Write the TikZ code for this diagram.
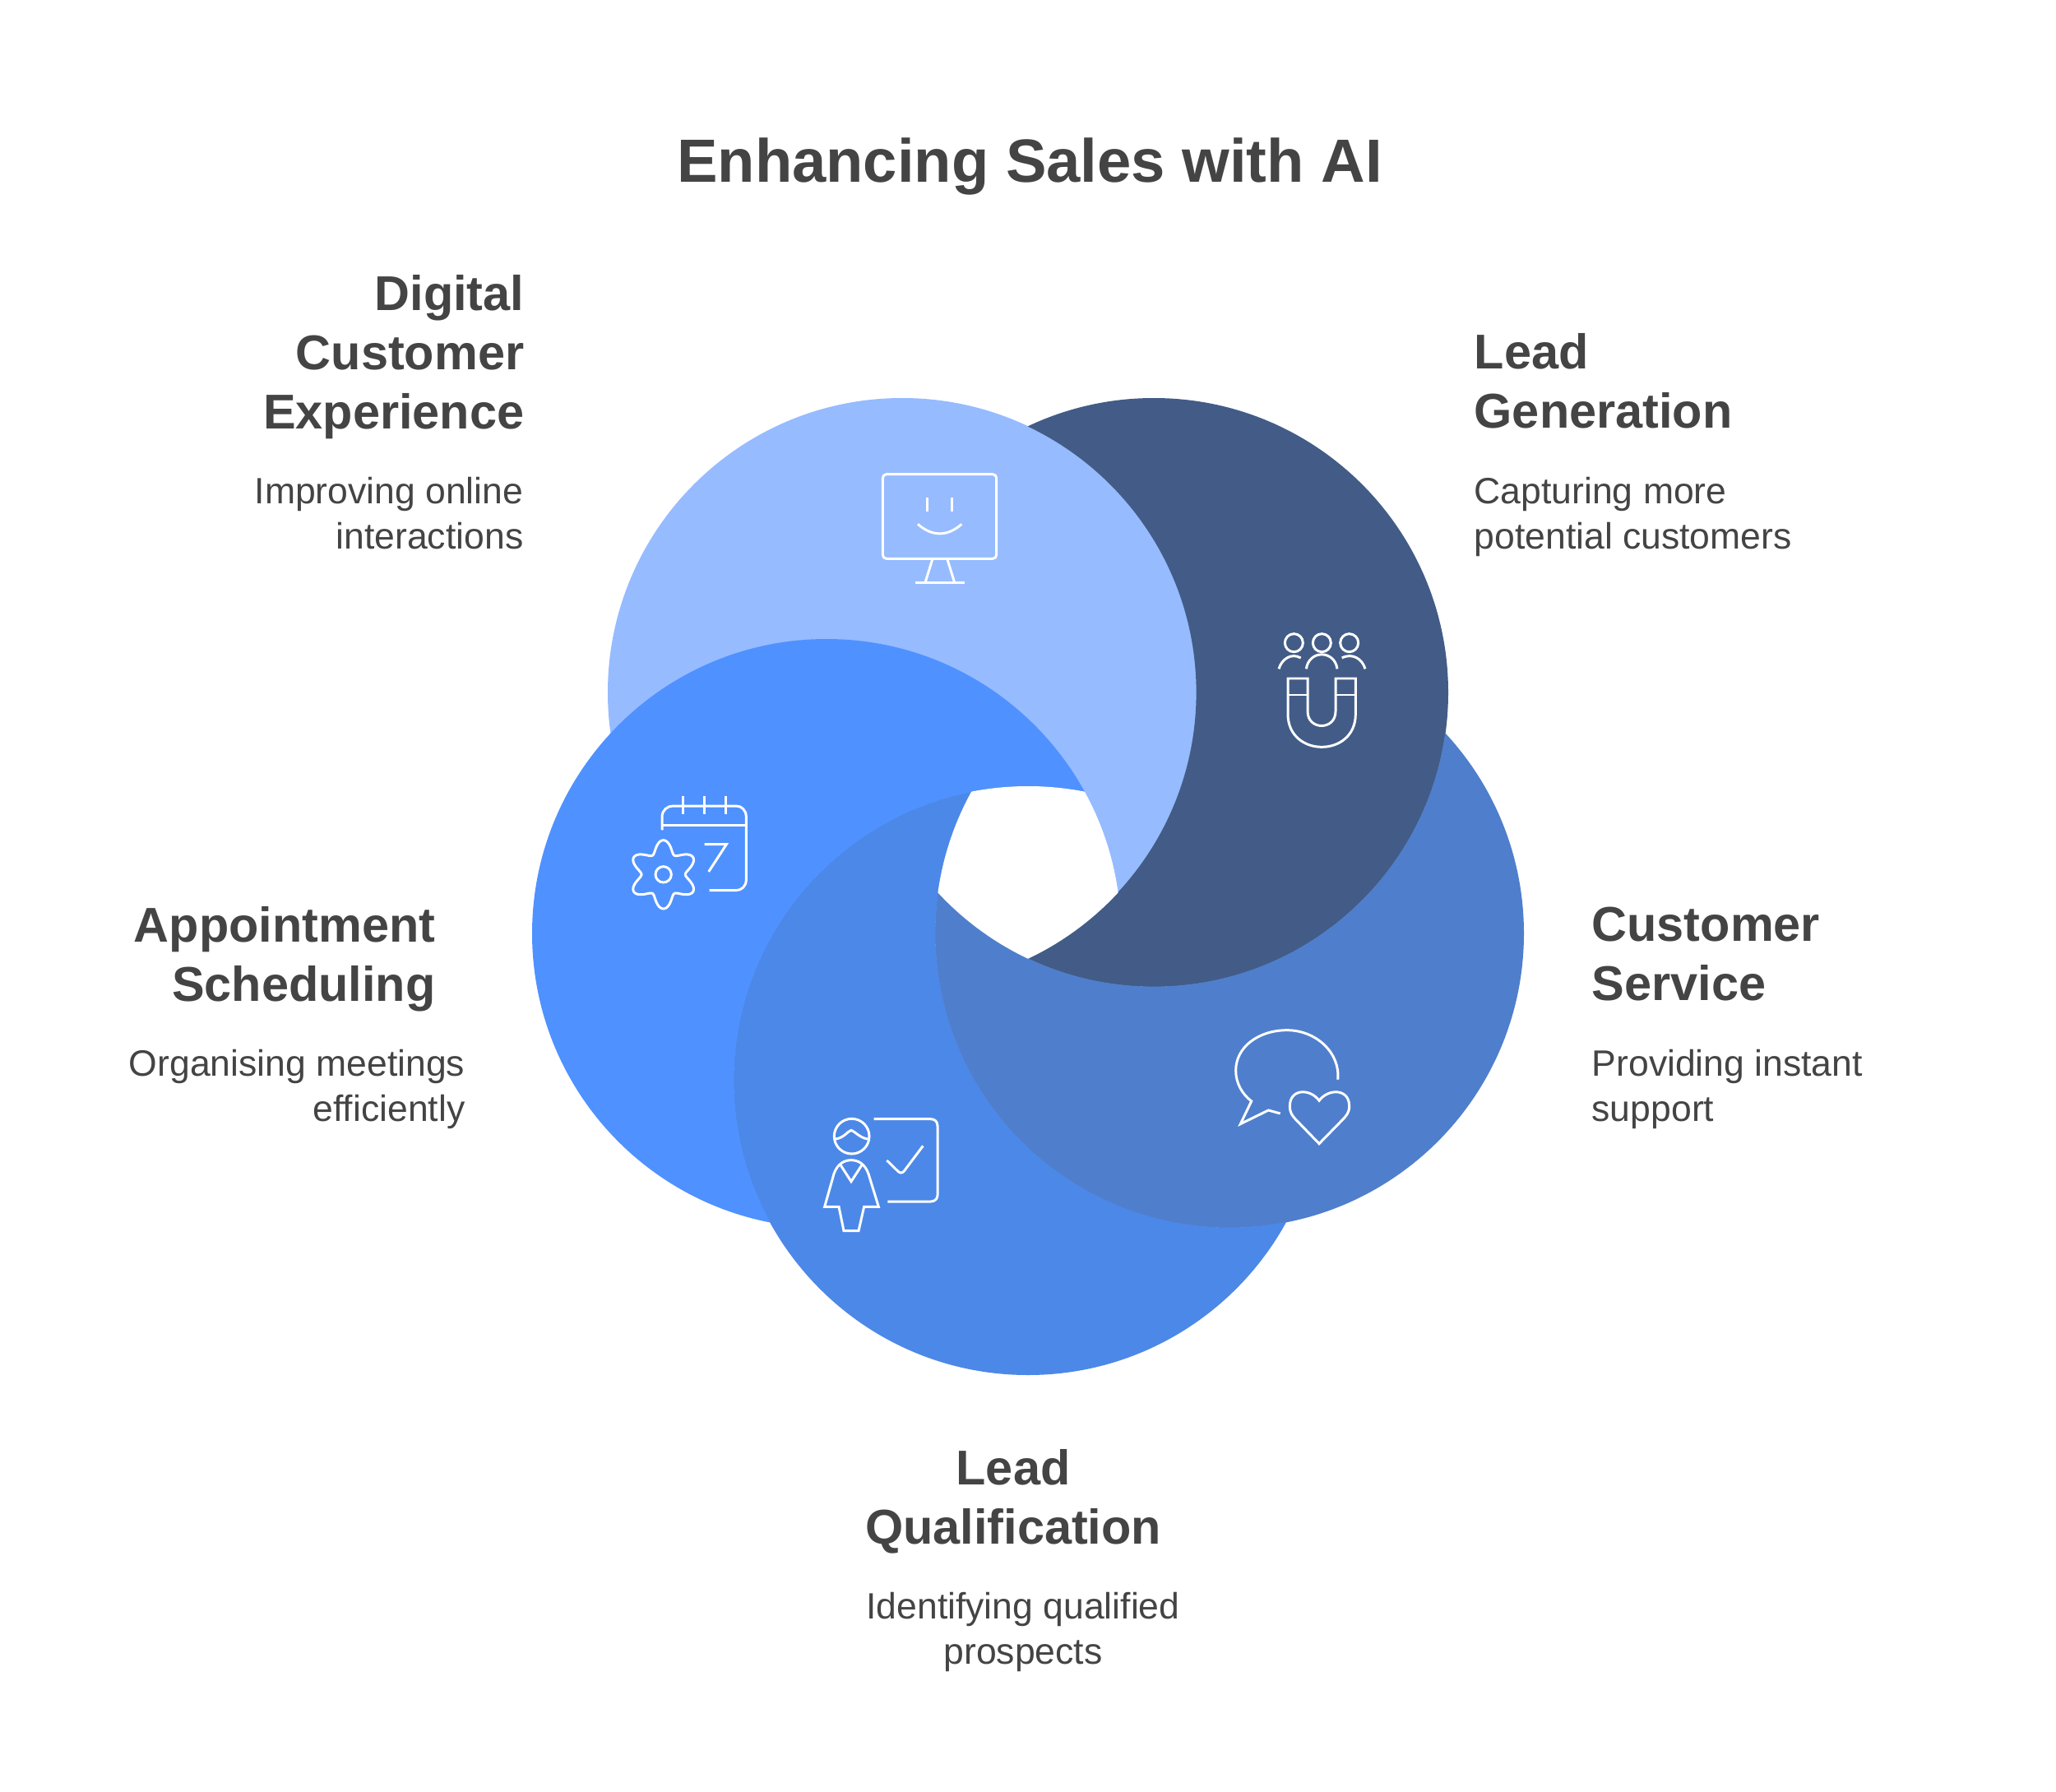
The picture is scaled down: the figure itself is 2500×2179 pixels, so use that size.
\documentclass[tikz,border=0pt]{standalone}
\usepackage{xcolor}
\usepackage{fontspec}
\setmainfont{Liberation Sans}
\definecolor{lightsky}{HTML}{96BBFF}
\definecolor{navyblue}{HTML}{425C87}
\definecolor{steelblue}{HTML}{4F7FCC}
\definecolor{midblue}{HTML}{4C88E8}
\definecolor{brightblue}{HTML}{4F91FF}
\definecolor{inkgrey}{HTML}{444444}
\usepackage{tikz}
\tikzset{
	headtext/.style={inner sep=0, text=inkgrey, font=\fontsize{16.9}{20.5}\selectfont\bfseries},
	bodytext/.style={inner sep=0, text=inkgrey, font=\fontsize{12.66}{15.6}\selectfont},
	iconline/.style={draw=white, line width=0.85pt},
	iconbox/.style={shift={#1}, scale=1/3},
}
\begin{document}
\begin{tikzpicture}[x=0.01cm, y=-0.01cm]
	\useasboundingbox (0, 0) rectangle (2500, 2179);
	\fill[white] (0, 0) rectangle (2500, 2179);
	
	\coordinate (digital) at (1097, 842);
	\coordinate (leadgen) at (1403, 842);
	\coordinate (service) at (1495, 1135);
	\coordinate (qualify) at (1250, 1314);
	\coordinate (appoint) at (1005, 1135);
	
	% each ring loses the part under the next one
	\foreach \tint/\this/\next in {lightsky/digital/appoint, navyblue/leadgen/digital, steelblue/service/leadgen, midblue/qualify/service, brightblue/appoint/qualify} {
		\begin{scope}[even odd rule]
			\clip (0, 0) rectangle (2500, 2179) (\next) circle[radius=357.6];
			\fill[\tint] (\this) circle[radius=358];
		\end{scope}
	}
	\begin{scope}
		\clip (digital) circle[radius=358];
		\clip (leadgen) circle[radius=358];
		\clip (service) circle[radius=358];
		\clip (qualify) circle[radius=358];
		\fill[white] (appoint) circle[radius=358];
	\end{scope}
	
	\node[inner sep=0, text=inkgrey, font=\fontsize{21.1}{25}\selectfont\bfseries, anchor=base] (title) at (1252, 222) {Enhancing Sales with AI};
	
	\node[headtext, anchor=north east, align=right] (digitalhead) at (638, 334) {Digital\\Customer\\Experience};
	\node[bodytext, anchor=north east, align=right] (digitalbody) at (637, 580) {Improving online\\interactions};
	\node[headtext, anchor=north west, align=left] (leadgenhead) at (1792, 405) {Lead\\Generation};
	\node[bodytext, anchor=north west, align=left] (leadgenbody) at (1792, 580) {Capturing more\\potential customers};
	\node[headtext, anchor=north east, align=right] (appointhead) at (530, 1102) {Appointment\\Scheduling};
	\node[bodytext, anchor=north east, align=right] (appointbody) at (566, 1276) {Organising meetings\\efficiently};
	\node[headtext, anchor=north west, align=left] (servicehead) at (1935, 1102) {Customer\\Service};
	\node[bodytext, anchor=north west, align=left] (servicebody) at (1935, 1276) {Providing instant\\support};
	\node[headtext, anchor=north, align=center] (qualifyhead) at (1232, 1762) {Lead\\Qualification};
	\node[bodytext, anchor=north, align=center] (qualifybody) at (1244, 1936) {Identifying qualified\\prospects};
	
	% monitor
	\begin{scope}[iconbox={(1040, 550)}]
		\draw[iconline, rounded corners=1.3pt] (100, 80) rectangle (515, 388);
		\foreach \x in {263, 353} {\draw[iconline] (\x, 165) -- (\x, 215);}
		\draw[iconline] (228, 262) .. controls (280, 308) and (336, 308) .. (388, 262);
		\draw[iconline] (282, 388) -- (255, 475);
		\draw[iconline] (335, 388) -- (362, 475);
		\draw[iconline] (220, 475) -- (398, 475);
	\end{scope}
	
	% magnet and people
	\begin{scope}[iconbox={(1530, 750)}]
		\foreach \x in {130, 232, 332} {\draw[iconline] (\x, 95) circle[radius=33];}
		\draw[iconline] (75, 190) .. controls (85, 155) and (120, 130) .. (155, 150);
		\draw[iconline] (175, 190) .. controls (185, 120) and (278, 120) .. (288, 190);
		\draw[iconline] (305, 150) .. controls (345, 130) and (380, 155) .. (390, 190);
		\draw[iconline] (108, 225) -- (180, 225) -- (180, 345) .. controls (180, 415) and (282, 415) .. (282, 345) -- (282, 225) -- (355, 225) -- (355, 355) .. controls (355, 515) and (108, 515) .. (108, 355) -- cycle;
		\draw[iconline] (108, 285) -- (180, 285);
		\draw[iconline] (282, 285) -- (355, 285);
	\end{scope}
	
	% calendar and gear
	\begin{scope}[iconbox={(750, 950)}]
		\draw[iconline] (165, 178) -- (165, 130) .. controls (165, 105) and (185, 90) .. (205, 90) -- (435, 90) .. controls (455, 90) and (472, 105) .. (472, 130) -- (472, 360) .. controls (472, 382) and (455, 398) .. (435, 398) -- (338, 398);
		\draw[iconline] (165, 160) -- (472, 160);
		\foreach \x in {240, 318, 397} {\draw[iconline] (\x, 55) -- (\x, 120);}
		\draw[iconline] (320, 230) -- (400, 230) -- (335, 330);
		\draw[iconline] plot[domain=0:360, samples=145, smooth] ({170+(102.5-22.5*cos(6*\x))*cos(\x)}, {340+(102.5-22.5*cos(6*\x))*sin(\x)});
		\draw[iconline] (170, 340) circle[radius=29];
	\end{scope}
	
	% presenter with board
	\begin{scope}[iconbox={(990, 1340)}]
		\draw[iconline] (137, 125) circle[radius=64];
		\draw[iconline] (78, 135) .. controls (110, 130) and (120, 108) .. (135, 103) .. controls (150, 108) and (165, 130) .. (195, 135);
		\draw[iconline] (218, 62) -- (425, 62) .. controls (440, 62) and (450, 72) .. (450, 87) -- (450, 340) .. controls (450, 353) and (440, 363) .. (425, 363) -- (268, 363);
		\draw[iconline] (265, 213) -- (305, 252) .. controls (312, 260) and (322, 260) .. (328, 252) -- (397, 160);
		\draw[iconline] (38, 382) -- (72, 262) .. controls (85, 225) and (110, 212) .. (135, 212) .. controls (160, 212) and (185, 225) .. (198, 262) -- (235, 382) -- (182, 382) -- (162, 470) -- (108, 470) -- (90, 382) -- cycle;
		\draw[iconline] (95, 228) -- (135, 290) -- (175, 228);
	\end{scope}
	
	% speech bubble with heart
	\begin{scope}[iconbox={(1480, 1240)}]
		\draw[iconline] (440, 218) .. controls (450, 120) and (360, 38) .. (255, 38) .. controls (150, 38) and (68, 100) .. (68, 185) .. controls (68, 230) and (90, 270) .. (125, 297) -- (85, 380) -- (187, 330) -- (230, 342);
		\draw[iconline] (372, 295) .. controls (340, 250) and (265, 250) .. (265, 315) .. controls (265, 340) and (275, 350) .. (285, 362) -- (372, 452) -- (460, 362) .. controls (470, 350) and (482, 340) .. (482, 315) .. controls (482, 250) and (405, 250) .. (372, 295) -- cycle;
	\end{scope}
\end{tikzpicture}
\end{document}
